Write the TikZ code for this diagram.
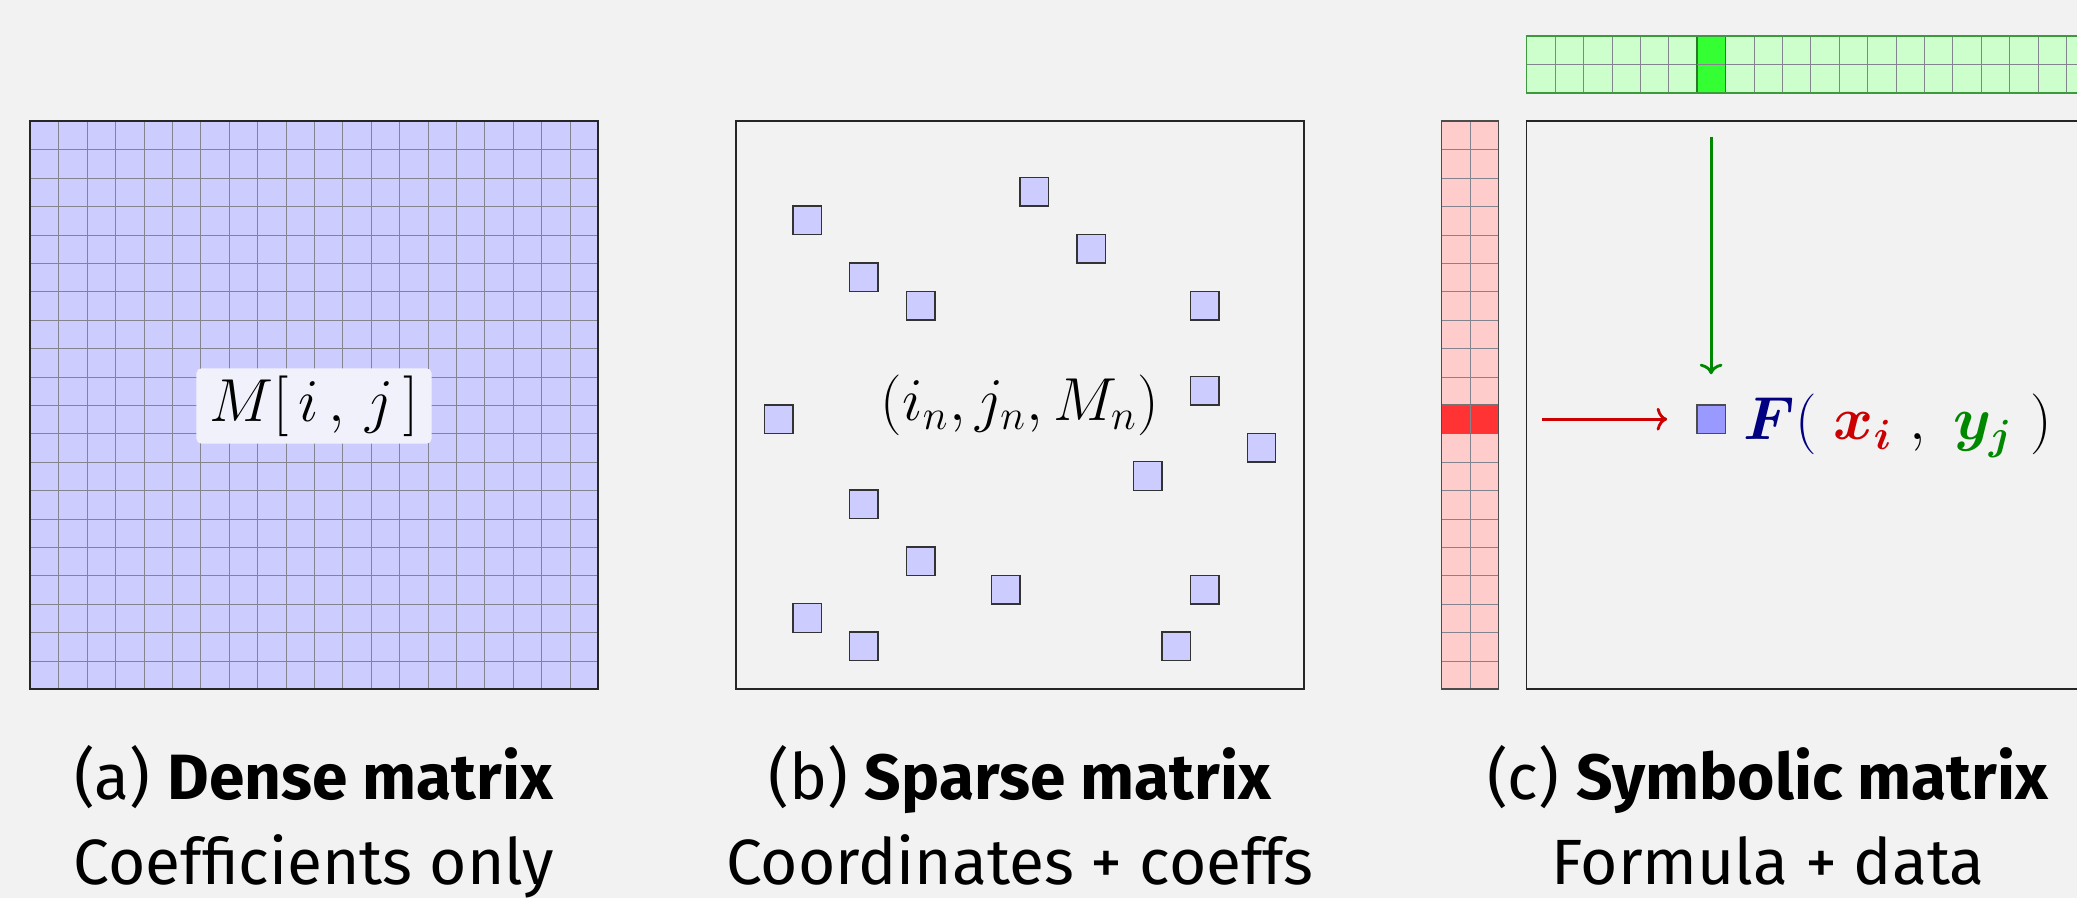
\documentclass[tikz,border=0pt]{standalone}
\usepackage{fontspec}
\usepackage{bm}
\usetikzlibrary{arrows.meta}
\newfontfamily\capfont{Fira Sans}
\definecolor{bgc}{HTML}{F2F2F2}
\definecolor{lav}{HTML}{CCCCFF}
\definecolor{lavlight}{HTML}{F1F1FC}
\definecolor{lavdark}{HTML}{9999FF}
\definecolor{pinkc}{HTML}{FFCCCC}
\definecolor{redrowc}{HTML}{FF3333}
\definecolor{lgreen}{HTML}{CCFFCC}
\definecolor{bgreen}{HTML}{33FF33}
\definecolor{gborder}{HTML}{3C9A3C}
\definecolor{gborderdark}{HTML}{2A7A2A}
\definecolor{fred}{HTML}{CC0000}
\definecolor{fgreen}{HTML}{008800}
\definecolor{fnavy}{HTML}{000080}
\definecolor{gridc}{HTML}{84848F}
\begin{document}
\begin{tikzpicture}[x=0.01cm,y=-0.01cm,
  gridline/.style={draw=gridc, line width=0.32pt},
  frame/.style={draw=black!85, line width=0.55pt},
  spsq/.style={draw=black!80, fill=lav, line width=0.4pt, minimum size=0.284cm, inner sep=0pt},
  mathlab/.style={font=\fontsize{18}{22}\selectfont, inner sep=0pt},
  captext/.style={font=\capfont\fontsize{18.2}{22}\selectfont, anchor=base, inner sep=0pt},
  arr/.style={line width=0.8pt, -{To[length=3pt,width=6.5pt]}}
]
\path[clip] (0,0) rectangle (2077,898);
\useasboundingbox (0,0) rectangle (2077,898);
\fill[bgc] (0,0) rectangle (2077,898);

% ---------- (a) dense matrix ----------
\fill[lav] (30,121) rectangle (598,689);
\foreach \k in {1,...,19}{
  \draw[gridline] ({round(30+\k*28.4)+0.5},121) -- ({round(30+\k*28.4)+0.5},689);
  \draw[gridline] (30,{round(121+\k*28.4)+0.5}) -- (598,{round(121+\k*28.4)+0.5});
}
\draw[frame] (30,121) rectangle (598,689);
\node[mathlab, fill=lavlight, rounded corners=1.4pt,
      inner xsep=3.6pt, inner ysep=2.1pt] (lab) at (314,406) {$M[\,i\,,\,j\,]$};

% ---------- (b) sparse matrix ----------
\draw[frame] (736,121) rectangle (1304,689);
\foreach \c/\r [count=\n] in {2/3,10/2,12/4,4/5,6/6,16/6,16/9,1/10,18/11,14/12,4/13,6/15,9/16,16/16,2/17,4/18,15/18}{
  \node[spsq] (s\n) at ({736+(\c+0.5)*28.4},{121+(\r+0.5)*28.4}) {};
}
\node[mathlab] (coo) at (1020,405) {$(i_n, j_n, M_n)$};

% ---------- (c) symbolic matrix ----------
% row vector (pink column)
\fill[pinkc] (1441.7,121) rectangle (1498.5,689);
\foreach \k in {1,...,19}{
  \draw[gridline] (1441.7,{round(121+\k*28.4)+0.5}) -- (1498.5,{round(121+\k*28.4)+0.5});
}
\draw[gridline] (1470.5,121) -- (1470.5,689);
\node[fill=redrowc, draw=black!55, line width=0.4pt, minimum width=0.568cm, minimum height=0.284cm, inner sep=0pt] (redrow) at (1470.1,{121+10.5*28.4}) {};
\draw[gridline] (1470.5,{121+10*28.4}) -- (1470.5,{121+11*28.4});
\draw[draw=black!70, line width=0.4pt] (1441.7,121) rectangle (1498.5,689);

% column vector (green bar)
\fill[lgreen] (1526.5,36) rectangle ({1526.5+20*28.4},92.8);
\foreach \k in {1,...,19}{
  \draw[gridline] ({round(1526.5+\k*28.4)+0.5},36) -- ({round(1526.5+\k*28.4)+0.5},92.8);
}
\draw[gridline] (1526.5,64.5) -- ({1526.5+20*28.4},64.5);
\node[fill=bgreen, draw=gborderdark, line width=0.45pt, minimum width=0.284cm, minimum height=0.568cm, inner sep=0pt] (gcol) at ({1526.5+6.5*28.4},64.4) {};
\draw[gridline] ({1526.5+6*28.4},64.5) -- ({1526.5+7*28.4},64.5);
\draw[draw=gborder, line width=0.5pt] (1526.5,36) rectangle ({1526.5+20*28.4},92.8);

% matrix frame
\draw[frame] (1526.5,121) rectangle ({1526.5+20*28.4},689);

% element and formula
\node[draw=black!70, fill=lavdark, line width=0.4pt, minimum size=0.284cm, inner sep=0pt] (sq) at ({1526.5+6.5*28.4},{121+10.5*28.4}) {};
\node[mathlab, anchor=base west] (fx) at (1743,440)
  {$\textcolor{fnavy}{\bm{F}(}\;\textcolor{fred}{\bm{x_i}}\;,\;\textcolor{fgreen}{\bm{y_j}}\;)$};

\draw[arr, draw=fred, shorten <=0.43cm, shorten >=0.29cm] (redrow.east) -- (sq.west);
\draw[arr, draw=fgreen, shorten <=0.43cm, shorten >=0.30cm] (gcol.south) -- (sq.north);

% ---------- captions ----------
\node[captext] (capa1) at (314,799) {(a) \textbf{Dense matrix}};
\node[captext] (capa2) at (314,884) {Coefficients only};
\node[captext] (capb1) at (1020,799) {(b) \textbf{Sparse matrix}};
\node[captext] (capb2) at (1020,884) {Coordinates + coeffs};
\node[captext] (capc1) at (1768,799) {(c) \textbf{Symbolic matrix}};
\node[captext] (capc2) at (1768,884) {Formula + data};
\end{tikzpicture}
\end{document}
